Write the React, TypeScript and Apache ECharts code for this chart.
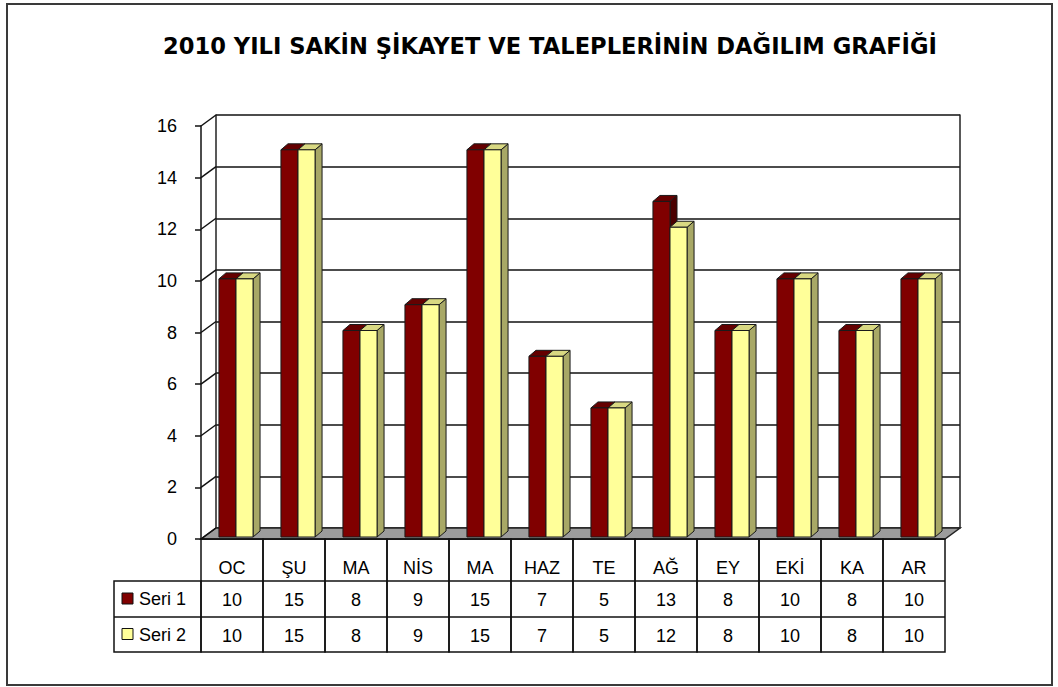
import React, { useEffect, useRef } from "react";
import * as echarts from "echarts";

const titleText = "2010 YILI SAKİN ŞİKAYET VE TALEPLERİNİN DAĞILIM GRAFİĞİ";
const categories = ["OC", "ŞU", "MA", "NİS", "MA", "HAZ", "TE", "AĞ", "EY", "EKİ", "KA", "AR"];
const seri1 = [10, 15, 8, 9, 15, 7, 5, 13, 8, 10, 8, 10];
const seri2 = [10, 15, 8, 9, 15, 7, 5, 12, 8, 10, 8, 10];
const seriesNames = ["Seri 1", "Seri 2"];
const yTicks = [0, 2, 4, 6, 8, 10, 12, 14, 16];

// layout (front plane of the 3D box)
const FX = 201;
const FY = 126;
const FW = 744;
const FH = 413;
const DX = 15;
const DY = -11;
const ROW1 = 581;
const ROW2 = 617;
const ROW3 = 652;
const LEGX = 114;
const FONT = "Liberation Sans, Arial, sans-serif";
const TITLE_FONT = "DejaVu Sans, Liberation Sans, sans-serif";

const faceColors = [
  { front: "#800000", top: "#650000", side: "#4a0000" },
  { front: "#FFFF99", top: "#d8d882", side: "#a8a866" },
];

export default function App() {
  const ref = useRef<HTMLDivElement>(null);
  useEffect(() => {
    if (!ref.current) return;
    const chart = echarts.init(ref.current, null, { renderer: "svg" });

    const barSeries = [seri1, seri2].map((vals, k) => ({
      type: "custom",
      name: seriesNames[k],
      xAxisIndex: 0,
      yAxisIndex: 0,
      z: 3 + k,
      clip: false,
      data: vals.map((v, i) => [i, v]),
      renderItem: (params: any, api: any) => {
        const top = api.coord([api.value(0), api.value(1)]);
        const bot = api.coord([api.value(0), 0]);
        const band = api.size([1, 0])[0];
        const bw = band * 0.275;
        const x0 = top[0] + 4 - bw + k * bw;
        const yt = top[1] - 2;
        const yb = bot[1] - 2;
        const bdx = 7;
        const bdy = -6;
        const c = faceColors[k];
        const st = { stroke: "#1a1a1a", lineWidth: 1 };
        return {
          type: "group",
          children: [
            {
              type: "polygon",
              shape: { points: [[x0 + bw, yt], [x0 + bw + bdx, yt + bdy], [x0 + bw + bdx, yb + bdy], [x0 + bw, yb]] },
              style: { fill: c.side, ...st },
            },
            {
              type: "polygon",
              shape: { points: [[x0, yt], [x0 + bw, yt], [x0 + bw + bdx, yt + bdy], [x0 + bdx, yt + bdy]] },
              style: { fill: c.top, ...st },
            },
            {
              type: "rect",
              shape: { x: x0, y: yt, width: bw, height: yb - yt },
              style: { fill: c.front, ...st },
            },
          ],
        };
      },
    }));

    const option: any = {
      animation: false,
      backgroundColor: "#ffffff",
      textStyle: { fontFamily: FONT },
      grid: [
        { left: FX, top: FY, width: FW, height: FH },
        { left: FX + DX, top: FY + DY, width: FW, height: FH },
      ],
      xAxis: [
        {
          type: "category",
          gridIndex: 0,
          data: categories,
          axisLine: { show: true, lineStyle: { color: "#111", width: 1.5 } },
          axisTick: { show: false },
          axisLabel: {
            margin: 29,
            verticalAlign: "middle",
            fontSize: 18,
            color: "#000",
            fontFamily: FONT,
            interval: 0,
          },
          splitLine: { show: false },
        },
        { type: "category", gridIndex: 1, data: categories, show: false },
      ],
      yAxis: [
        {
          type: "value",
          gridIndex: 0,
          min: 0,
          max: 16,
          interval: 2,
          axisLine: { show: true, lineStyle: { color: "#111", width: 1.5 } },
          axisTick: { show: true, length: 6, lineStyle: { color: "#111", width: 1.5 } },
          axisLabel: { margin: 24, fontSize: 18, color: "#000", fontFamily: FONT },
          splitLine: { show: false },
        },
        {
          type: "value",
          gridIndex: 1,
          min: 0,
          max: 16,
          interval: 2,
          axisLine: { show: true, lineStyle: { color: "#222", width: 1.5 } },
          axisTick: { show: false },
          axisLabel: { show: false },
          splitLine: { show: true, lineStyle: { color: "#111", width: 1.5 } },
        },
        {
          type: "value",
          gridIndex: 1,
          position: "right",
          min: 0,
          max: 16,
          interval: 2,
          axisLine: { show: true, lineStyle: { color: "#222", width: 1.5 } },
          axisTick: { show: false },
          axisLabel: { show: false },
          splitLine: { show: false },
        },
      ],
      graphic: [
        {
          type: "rect",
          shape: { x: 7, y: 4, width: 1045, height: 681 },
          style: { fill: "none", stroke: "#3a3a3a", lineWidth: 2 },
          z: 0,
        },
        {
          type: "text",
          x: 550,
          y: 46,
          style: {
            text: titleText,
            align: "center",
            verticalAlign: "middle",
            font: `bold 22.6px ${TITLE_FONT}`,
            fill: "#000",
          },
        },
        {
          type: "polygon",
          shape: {
            points: [
              [FX, FY + FH],
              [FX + FW, FY + FH],
              [FX + FW + DX, FY + FH + DY],
              [FX + DX, FY + FH + DY],
            ],
          },
          style: { fill: "#9c9c9c", stroke: "#222", lineWidth: 1.5 },
          z: 1,
        },
        {
          type: "rect",
          shape: { x: LEGX, y: ROW1, width: FX - LEGX, height: ROW3 - ROW1 },
          style: { fill: "none", stroke: "#111", lineWidth: 1.5 },
          z: 5,
        },
        {
          type: "line",
          shape: { x1: LEGX, y1: ROW2, x2: FX, y2: ROW2 },
          style: { stroke: "#111", lineWidth: 1.5 },
          z: 5,
        },
        ...seriesNames.flatMap((name, k) => {
          const yc = k === 0 ? (ROW1 + ROW2) / 2 : (ROW2 + ROW3) / 2;
          return [
            {
              type: "rect",
              shape: { x: 122, y: yc - 6, width: 11, height: 11 },
              style: { fill: faceColors[k].front, stroke: "#111", lineWidth: 1 },
              z: 5,
            },
            {
              type: "text",
              x: 139,
              y: yc,
              style: {
                text: name,
                align: "left",
                verticalAlign: "middle",
                font: `18px ${FONT}`,
                fill: "#000",
              },
              z: 5,
            },
          ];
        }),
      ],
      series: [
        {
          type: "custom",
          name: "leftwall",
          xAxisIndex: 0,
          yAxisIndex: 0,
          z: 1,
          clip: false,
          silent: true,
          data: yTicks.map((v) => [0, v]),
          renderItem: (params: any, api: any) => {
            const p = api.coord([0, api.value(1)]);
            const x = params.coordSys.x;
            return {
              type: "line",
              shape: { x1: x, y1: p[1], x2: x + DX, y2: p[1] + DY },
              style: { stroke: "#111", lineWidth: 1.5 },
            };
          },
        },
        ...barSeries,
        {
          type: "custom",
          name: "table",
          xAxisIndex: 0,
          yAxisIndex: 0,
          z: 6,
          clip: false,
          silent: true,
          data: categories.map((c, i) => [i, 0]),
          renderItem: (params: any, api: any) => {
            const i = api.value(0);
            const p = api.coord([i, 0]);
            const band = api.size([1, 0])[0];
            const xl = p[0] - band / 2;
            const ls = { stroke: "#111", lineWidth: 1.5, fill: "none" };
            const ts = (t: any, y: number) => ({
              type: "text",
              x: p[0],
              y,
              style: {
                text: String(t),
                align: "center",
                verticalAlign: "middle",
                font: `18px ${FONT}`,
                fill: "#000",
              },
            });
            return {
              type: "group",
              children: [
                { type: "rect", shape: { x: xl, y: p[1], width: band, height: ROW3 - p[1] }, style: ls },
                { type: "line", shape: { x1: xl, y1: ROW1, x2: xl + band, y2: ROW1 }, style: ls },
                { type: "line", shape: { x1: xl, y1: ROW2, x2: xl + band, y2: ROW2 }, style: ls },
                ts(seri1[i], (ROW1 + ROW2) / 2 + 1),
                ts(seri2[i], (ROW2 + ROW3) / 2 + 1),
              ],
            };
          },
        },
      ],
    };
    chart.setOption(option);
    return () => chart.dispose();
  }, []);
  return (
    <div
      ref={ref}
      style={{ position: "fixed", left: 0, top: 0, width: 1058, height: 687, background: "#fff" }}
    />
  );
}
